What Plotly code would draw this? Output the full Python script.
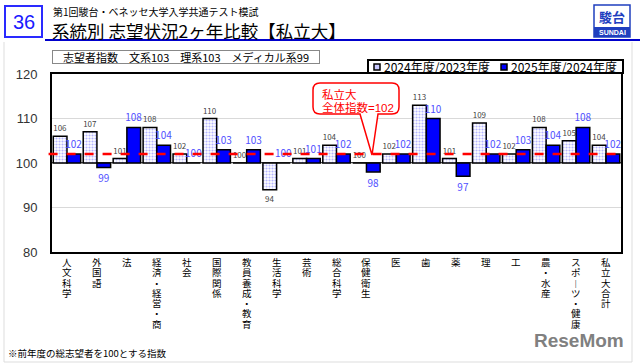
import plotly.graph_objects as go

categories = ["人文科学", "外国語", "法", "経済・経営・商", "社会", "国際関係", "教員養成・教育",
              "生活科学", "芸術", "総合科学", "保健衛生", "医", "歯", "薬", "理", "工",
              "農・水産", "スポーツ・健康", "私立大合計"]
idx_2024_2023 = [106, 107, 101, 108, 102, 110, 100, 94, 101, 104, 100, 102, 113, 101, 109, 102, 108, 105, 104]
idx_2025_2024 = [102, 99, 108, 104, 100, 103, 103, 100, 101, 102, 98, 102, 110, 97, 102, 103, 104, 108, 102]
series_names = ["2024年度/2023年度", "2025年度/2024年度"]
base_value = 100
overall_index = 102
y_ticks = [80, 90, 100, 110, 120]

JP = "Noto Sans CJK JP"
TIGHT = "font-family:'Liberation Sans','Noto Sans CJK JP'"

# plot area in pixels
L, R, T, B = 52, 621, 74, 252
W, H = 640, 364


def X(px):
    return (px - L) / (R - L)


def Y(py):
    return (B - py) / (B - T)


C24_FILL = "#c8c8ff"
C25 = "#0000ff"

fig = go.Figure()
fig.add_trace(go.Bar(
    x=categories, y=[v - base_value for v in idx_2024_2023], base=base_value,
    name=series_names[0], showlegend=False,
    marker=dict(color="white", line=dict(color="black", width=1.5),
                pattern=dict(shape=".", fgcolor="#6a6aff", bgcolor="white", size=3, solidity=0.4)),
    text=[str(v) for v in idx_2024_2023], textposition="outside",
    textfont=dict(size=8, color="#444444", family=JP), constraintext="none", cliponaxis=False,
))
fig.add_trace(go.Bar(
    x=categories, y=[v - base_value for v in idx_2025_2024], base=base_value,
    name=series_names[1], showlegend=False,
    marker=dict(color=C25, line=dict(color="black", width=1.5)),
    text=[str(v) for v in idx_2025_2024], textposition="outside",
    textfont=dict(size=10, color="#5050ff", family=JP), constraintext="none", cliponaxis=False,
))

shapes = []
# 100 base line and overall index dashed line
shapes.append(dict(type="line", xref="paper", yref="y", x0=0, x1=1, y0=base_value, y1=base_value,
                   line=dict(color="black", width=1.5), layer="below"))
shapes.append(dict(type="line", xref="paper", yref="y", x0=-0.006, x1=1, y0=overall_index, y1=overall_index,
                   line=dict(color="#ff0000", width=2.5, dash="dash"), layer="above"))
# slide frame
for x0, y0, x1, y1 in [(4, 42, 4, 362), (632, 42, 632, 362), (4, 362, 632, 362)]:
    shapes.append(dict(type="line", xref="paper", yref="paper", x0=X(x0), y0=Y(y0), x1=X(x1), y1=Y(y1),
                       line=dict(color="#dddddd", width=1)))
# page number box
shapes.append(dict(type="rect", xref="paper", yref="paper", x0=X(5), y0=Y(37), x1=X(42), y1=Y(6),
                   line=dict(color="#2a2aff", width=2), fillcolor="white"))
# title underline
shapes.append(dict(type="line", xref="paper", yref="paper", x0=X(45), y0=Y(40), x1=X(640), y1=Y(40),
                   line=dict(color="#0000cc", width=2)))
# logo
shapes.append(dict(type="rect", xref="paper", yref="paper", x0=X(594), y0=Y(37), x1=X(630), y1=Y(5),
                   line=dict(color="#1f3fbf", width=1.5), fillcolor="white"))
shapes.append(dict(type="rect", xref="paper", yref="paper", x0=X(594), y0=Y(37), x1=X(630), y1=Y(27),
                   line=dict(color="#1f3fbf", width=0), fillcolor="#1f3fbf"))
# legend box and symbols
shapes.append(dict(type="rect", xref="paper", yref="paper", x0=X(368), y0=Y(73), x1=X(623), y1=Y(60),
                   line=dict(color="black", width=2), fillcolor="white"))
shapes.append(dict(type="rect", xref="paper", yref="paper", x0=X(374), y0=Y(70), x1=X(380), y1=Y(64),
                   line=dict(color="black", width=1.5), fillcolor=C24_FILL))
shapes.append(dict(type="rect", xref="paper", yref="paper", x0=X(501), y0=Y(70), x1=X(507), y1=Y(64),
                   line=dict(color="black", width=1.5), fillcolor=C25))

# callout bubble
bl, br, bt, bb, r = 313, 399, 83, 114, 7
tail_l, tail_r, tip_x, tip_y = 360, 378, 372, 155
path = (f"M {X(bl + r)},{Y(bt)} L {X(br - r)},{Y(bt)} Q {X(br)},{Y(bt)} {X(br)},{Y(bt + r)} "
        f"L {X(br)},{Y(bb - r)} Q {X(br)},{Y(bb)} {X(br - r)},{Y(bb)} "
        f"L {X(tail_r)},{Y(bb)} L {X(tip_x)},{Y(tip_y)} L {X(tail_l)},{Y(bb)} "
        f"L {X(bl + r)},{Y(bb)} Q {X(bl)},{Y(bb)} {X(bl)},{Y(bb - r)} "
        f"L {X(bl)},{Y(bt + r)} Q {X(bl)},{Y(bt)} {X(bl + r)},{Y(bt)} Z")
shapes.append(dict(type="path", xref="paper", yref="paper", path=path,
                   line=dict(color="#ff0000", width=1.5), fillcolor="white"))

annotations = []
# vertical category labels: one character per line, tight pitch
for cat in categories:
    chars = ["︱" if ch == "ー" else ch for ch in cat]
    label = "<br>".join(f"<span style=\"font-size:9.5px;{TIGHT}\">{ch}</span>" for ch in chars)
    annotations.append(dict(x=cat, xref="x", y=0, yref="paper", yanchor="top", xanchor="center",
                            yshift=-3, text=label, showarrow=False,
                            font=dict(size=7.9, color="#000000", family=JP)))


def txt(text, px, py, size, color="black", xanchor="left", yanchor="middle", family=JP, **kw):
    annotations.append(dict(text=text, x=X(px), y=Y(py), xref="paper", yref="paper",
                            xanchor=xanchor, yanchor=yanchor, showarrow=False,
                            font=dict(size=size, color=color, family=family), **kw))


txt("36", 23.5, 22, 20, color="#1a1aff", xanchor="center", family="Liberation Sans")
txt("第1回駿台・ベネッセ大学入学共通テスト模試", 51, 11.5, 10)
txt("系統別 志望状況2ヶ年比較【私立大】", 50, 31, 17.5)
txt("<b>駿台</b>", 612, 16, 13, color="#1f3fbf", xanchor="center")
txt("<b>SUNDAI</b>", 612, 32, 7, color="white", xanchor="center", family="Liberation Sans")
txt("志望者指数　文系103　理系103　メディカル系99", 186, 57, 11, xanchor="center",
    bordercolor="#888888", borderwidth=1, borderpad=0, width=266, height=12, bgcolor="white")
txt(series_names[0], 382, 66.5, 12)
txt(series_names[1], 509, 66.5, 12)
callout = "<br>".join(f"<span style=\"font-size:11.5px;{TIGHT}\">{s}</span>"
                      for s in ["私立大", f"全体指数={overall_index}"])
txt(callout, 320, 100.5, 10, color="#ff0000", align="left")
txt("※前年度の総志望者を100とする指数", 6, 353, 9.5)
txt("<b>ReseMom</b>", 626, 340, 19, color="#808080", xanchor="right", family="Liberation Sans")

fig.update_layout(
    width=W, height=H, margin=dict(l=L, r=W - R, t=T, b=H - B),
    paper_bgcolor="white", plot_bgcolor="white",
    barmode="group", bargap=0.085, bargroupgap=0,
    font=dict(family=JP, color="#333333"),
    showlegend=False,
    shapes=shapes, annotations=annotations,
)
fig.update_xaxes(type="category", showticklabels=False, showline=True, mirror=True,
                 linecolor="black", linewidth=2, showgrid=False, ticks="")
fig.update_yaxes(range=[80, 120], tickvals=y_ticks, showline=True, mirror=True, linecolor="black",
                 linewidth=2, showgrid=True, gridcolor="#d9d9d9", gridwidth=1, zeroline=False,
                 ticks="", ticklabelstandoff=10,
                 tickfont=dict(size=13, color="#333333", family="Liberation Sans"))

fig.write_html("out.html", config={"displayModeBar": False},
               post_script="document.body.style.margin='0';")
